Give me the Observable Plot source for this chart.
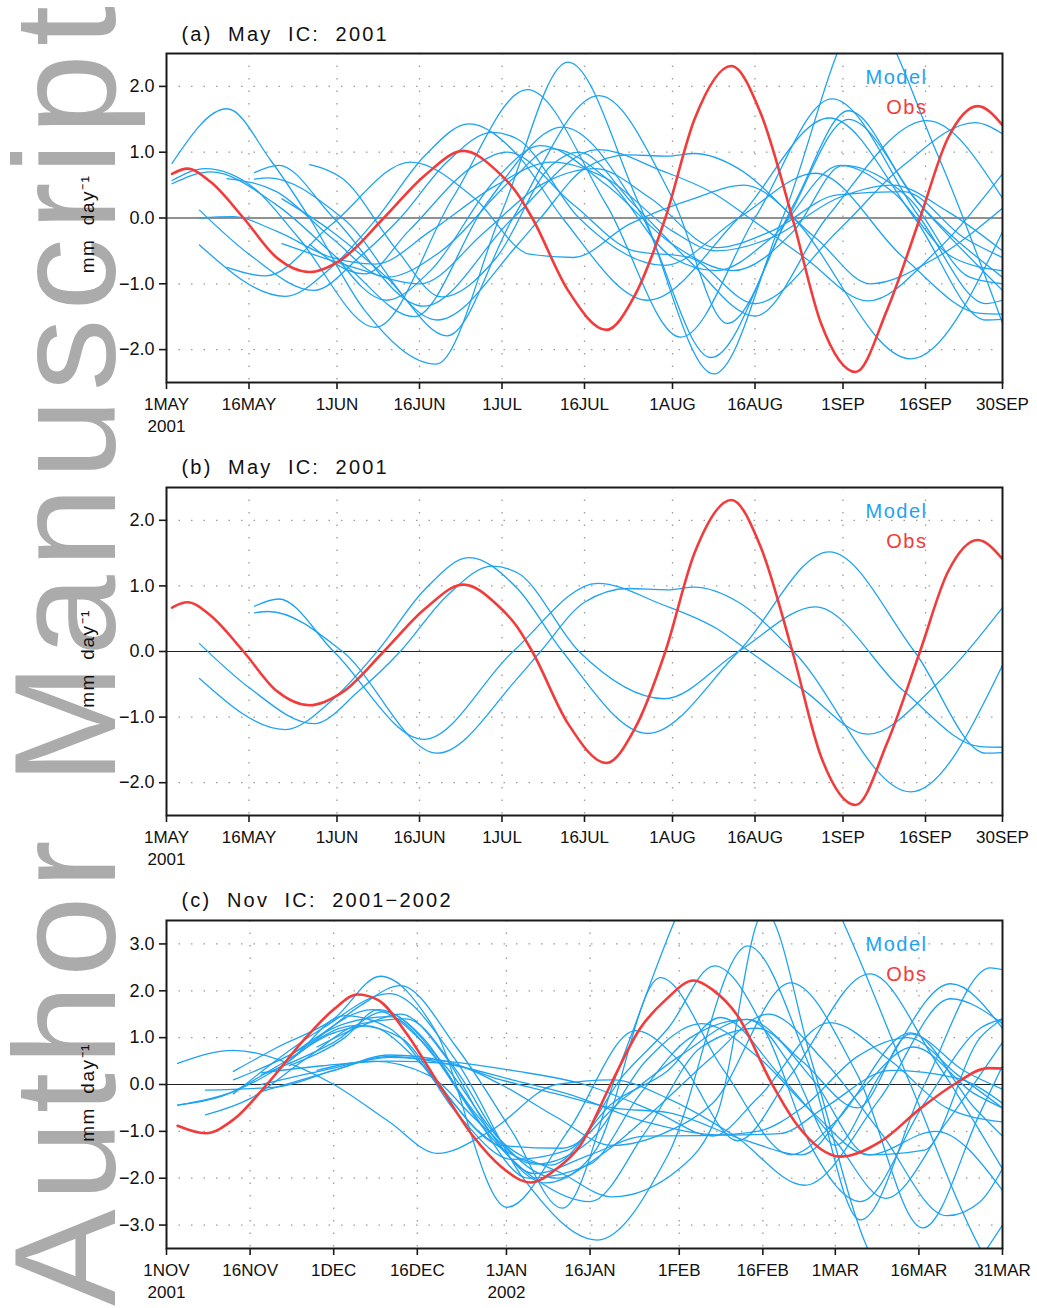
<!DOCTYPE html>
<html>
<head>
<meta charset="utf-8">
<script src="https://cdn.jsdelivr.net/npm/d3@7"></script>
<script src="https://cdn.jsdelivr.net/npm/@observablehq/plot@0.6"></script>
<style>
  html, body { margin: 0; padding: 0; background: #fff; }
  #wrap { position: relative; width: 1037px; height: 1308px; overflow: hidden; font-family: "Liberation Sans", Arial, sans-serif; }
  #wrap > div { position: absolute; left: 0; }
  #wm { position: absolute; left: 0; top: 0; }
</style>
</head>
<body>
<div id="wrap">
  <svg id="wm" width="1037" height="1308"></svg>
  <div id="pa" style="top:0px"></div>
  <div id="pb" style="top:440px"></div>
  <div id="pc" style="top:870px"></div>
</div>
<script>
// ---------- tick dates & labels ----------
const ticksMay = ["2001-05-01","2001-05-16","2001-06-01","2001-06-16","2001-07-01","2001-07-16","2001-08-01","2001-08-16","2001-09-01","2001-09-16","2001-09-30"];
const tickLabelsMay = ["1MAY\n2001","16MAY","1JUN","16JUN","1JUL","16JUL","1AUG","16AUG","1SEP","16SEP","30SEP"];
const ticksNov = ["2001-11-01","2001-11-16","2001-12-01","2001-12-16","2002-01-01","2002-01-16","2002-02-01","2002-02-16","2002-03-01","2002-03-16","2002-03-31"];
const tickLabelsNov = ["1NOV\n2001","16NOV","1DEC","16DEC","1JAN\n2002","16JAN","1FEB","16FEB","1MAR","16MAR","31MAR"];
const yTicksMay = [-2, -1, 0, 1, 2];
const yTicksNov = [-3, -2, -1, 0, 1, 2, 3];
const titles = ["(a)  May  IC:  2001", "(b)  May  IC:  2001", "(c)  Nov  IC:  2001\u22122002"];

// ---------- data: [day since 1 May 2001 / 1 Nov 2001, mm/day] ----------
const obsMay = [[1,0.67],[3.8,0.75],[8,0.55],[14,0],[20,-0.6],[26,-0.82],[32,-0.62],[39.5,0],[47,0.65],[54,1.02],[60,0.72],[63.8,0.37],[66.5,0],[73,-1.1],[80,-1.70],[85,-1.2],[90.7,0],[96,1.5],[102.7,2.31],[108,1.6],[113.8,0],[119,-1.6],[125.3,-2.34],[131,-1.4],[137,0],[142,1.2],[147.5,1.70],[152,1.41]];

const mA1 = [[1,0.83],[11,1.66],[19,0.87],[26,0],[36,-1.4],[49,-2.22],[61,0.1],[73,2.37],[86,0.2],[99.5,-2.37],[112,0],[127,3.1],[140,1.0],[152,-1.6]];
const mA2 = [[1,0.57],[7,0.75],[16,0.45],[24,-0.3],[38,-1.66],[52,0.3],[65.6,1.95],[80,0.2],[93.5,-1.81],[107,0],[121,1.81],[137,0],[149,-1.3],[152,-1.25]];
const mA3 = [[1,0.52],[8,0.7],[20,0.2],[33,-0.75],[45,-1.5],[58,0.2],[72,1.38],[86,0.1],[99,-2.12],[113,0],[124,1.5],[137,0.2],[152,-1.1]];
const mA4 = [[6,-0.41],[21.6,-1.19],[30,-0.75],[38.3,0],[47,0.95],[55,1.43],[63.8,0.96],[72,0],[87.5,-1.25],[104,0],[120.5,1.52],[136,0],[149,-1.55],[152,-1.54]];
const mA5 = [[6,0.12],[15,-0.55],[26.8,-1.1],[35,-0.6],[42.5,0],[51,0.85],[59.2,1.3],[63.8,1.2],[75,0],[90.5,-0.72],[104,0],[118,0.68],[134,-0.6],[148,-1.45],[152,-1.46]];
const mA6 = [[16,0.69],[20.4,0.8],[30.4,0],[46.8,-1.34],[63,0],[78.4,1.04],[90,0.72],[100,0.35],[106,0],[116,-0.6],[127.5,-1.26],[140,-0.5],[152,0.67]];
const mA7 = [[16,0.59],[18.5,0.61],[32,0],[49.2,-1.55],[63.8,-0.41],[68,0],[76,0.75],[84,0.96],[91,0.94],[96,0.98],[104,0.75],[114,0],[135.3,-2.14],[152,-0.21]];
const mA8 = [[6,0.0],[12,0.02],[20,-0.2],[30,-0.6],[38,-0.7],[48,-0.2],[60,0.5],[70,0.85],[80,0.6],[92,-0.2],[100,-0.5],[110,-0.3],[122,0.3],[132,0.5],[142,0.1],[152,-0.5]];
const mA9 = [[11,0.6],[20,0.4],[30,-0.3],[40,-0.9],[50,-0.5],[63,0.6],[70,1.05],[80,0.6],[92,-0.6],[100,-0.8],[110,-0.3],[122.5,0.8],[132,0.4],[143,-0.6],[152,-0.8]];
const mA10 = [[21,0.29],[30,-0.2],[40,-0.9],[51,-1.79],[63,0],[78.6,1.86],[92,0.3],[102,-1.6],[114,0.2],[124,1.63],[136,0.3],[152,-0.9]];
const mA11 = [[21,-0.39],[34,-0.75],[46,-1.0],[58,-0.2],[68,0.5],[78,0.75],[88,0.3],[100,-0.45],[110,-0.2],[122,0.35],[134,0.4],[145,-0.3],[152,-0.6]];
const mA12 = [[26,0.81],[32,0.6],[42,-0.5],[50,-1.2],[60,-0.6],[70,0.8],[75,1.0],[85,0.2],[95,-0.65],[107,-1.49],[120,0],[138.3,1.48],[152,0.3]];
const mA13 = [[26,-0.4],[36,-0.85],[44,-0.2],[56,0.8],[62,1.0],[74,0.2],[85,-0.5],[95,-0.6],[107,-1.3],[122,-0.2],[134,0.8],[147,1.45],[152,1.28]];
const mA14 = [[11,-0.75],[18,-0.88],[30,-0.1],[44.4,0.85],[56,0.3],[66,-0.55],[74,-0.6],[84,-0.1],[96,0.3],[105,0.5],[118,-0.3],[128,-1.0],[140,-0.6],[152,0.15]];
const mA15 = [[31,-0.6],[40,-1.25],[48,-0.8],[60,0.6],[68,1.1],[80,0.5],[92,-0.4],[103,-0.8],[114,-0.2],[123,0.8],[135,0.3],[146,-0.9],[152,-1.0]];
const modelA = [mA1,mA2,mA3,mA4,mA5,mA6,mA7,mA8,mA9,mA10,mA11,mA12,mA13,mA14,mA15];
const modelB = [mA4,mA5,mA6,mA7];

const obsNov = [[2,-0.88],[7,-1.04],[12,-0.75],[18,0],[25,1.0],[30,1.6],[34.2,1.92],[38,1.8],[43,1.1],[48.9,0],[55,-1.1],[60,-1.75],[65.3,-2.09],[70,-1.8],[74.3,-1.29],[79.7,0],[85,1.2],[89.5,1.8],[94.6,2.22],[98,2.02],[102.4,1.48],[108.7,0],[113.2,-0.87],[121,-1.54],[128.1,-1.22],[135.3,-0.51],[141.3,0],[147.5,0.35],[150,0.34]];

const mC1 = [[2,0.45],[12,0.73],[22,0.45],[30,0],[40,-0.8],[48.6,-1.47],[58,-1.0],[70,0.0],[80,0.1],[90,-0.3],[102,-1.1],[114.5,-2.15],[128,-0.3],[140.7,1.83],[150,1.3]];
const mC2 = [[2,-0.44],[10,-0.25],[20,0.4],[30,1.1],[36,1.25],[46,0.4],[56,-1.0],[69,-1.72],[80,-0.4],[90,0.3],[99.4,1.43],[110,0.2],[120,-1.2],[129,-2.43],[140,-0.8],[150,0.9]];
const mC3 = [[2,-0.44],[12,-0.15],[22,0.5],[32,1.47],[40,1.2],[50,-0.2],[60,-1.3],[71,-1.36],[82,-0.3],[92,0.6],[104.2,1.39],[114,0.5],[124,-0.5],[133.5,1.08],[143,0.3],[150,-0.1]];
const mC4 = [[7,-0.12],[20,-0.05],[30,0.3],[40,0.6],[52,0.4],[62,0.1],[72,-0.2],[86,-0.8],[100,-1.08],[110,-1.05],[118,-0.5],[130,0.3],[142,0.13],[150,-0.4]];
const mC5 = [[7,-0.65],[15,-0.3],[25,0.55],[35,1.3],[43,1.4],[52,0.3],[60,-1.2],[70,-2.0],[77,-1.4],[88.6,2.28],[100,0.3],[112,-1.5],[120,-0.8],[133.5,1.1],[145,-0.5],[150,-1.1]];
const mC6 = [[12,0.28],[20,0.8],[30,1.4],[38.4,2.31],[48,1.2],[61.1,-2.62],[72,-1.0],[84.2,1.15],[92,0.5],[102.5,-1.2],[112,0.2],[126.2,2.36],[138,0.5],[150,-1.8]];
const mC7 = [[12,0.1],[26,0.9],[35,1.7],[42,2.11],[52,0.8],[62,-1.0],[71,-2.64],[81,0.3],[91.2,3.5],[106,7.0],[121.3,3.5],[133.5,0],[146,-3.5],[150,-4.3]];
const mC8 = [[12,-0.2],[28,1.2],[40,1.94],[52,0.5],[64,-2.0],[77.3,-3.32],[90,-1.5],[104.3,2.96],[115,0.5],[124.5,-2.89],[136,0],[147.8,2.49],[150,2.45]];
const mC9 = [[17,0.2],[30,0.9],[39,1.55],[50,0.4],[60,-1.2],[71,-1.9],[80,-2.4],[92,-1.8],[99,-0.57],[107.3,3.7],[116,0.4],[125.8,-3.5],[132,-4.6],[142,-4.2],[150,-3.0]];
const mC10 = [[17,-0.15],[30,0.3],[40,0.63],[50,0.5],[60,0.0],[70,-0.7],[80,-1.3],[90,-1.0],[98,-0.4],[112,2.17],[124,0.2],[135.7,-3.06],[146,-0.6],[150,0.4]];
const mC11 = [[17,0.0],[30,0.35],[40,0.58],[50,0.5],[62,0.3],[75,0.0],[88,-0.6],[98,-1.1],[106,-0.3],[119,1.32],[130,0.5],[140,-0.5],[150,-0.8]];
const mC12 = [[17,0.25],[28,0.4],[40,0.5],[50,0.45],[60,0.1],[70,-0.2],[80,-0.5],[90,-0.6],[104,-1.2],[114,-1.5],[124,-0.2],[134,0.8],[145,-0.2],[150,-0.5]];
const mC13 = [[22,0.5],[34,1.26],[42,1.0],[52,-0.6],[62,-1.6],[72,-1.4],[82,0.2],[90,1.2],[98.3,2.53],[108,1.0],[116,-1.4],[124.5,-2.5],[136,-0.4],[146,1.2],[150,1.4]];
const mC14 = [[22,0.4],[32,1.0],[38,1.6],[46,1.0],[55,-0.6],[65,-2.0],[76,-1.7],[85,-0.2],[94,1.0],[104.2,1.39],[112,0.4],[120,-1.3],[128,0.2],[140.7,2.15],[150,1.2]];
const mC15 = [[22,0.6],[32,1.3],[40,1.45],[48,0.6],[56,-0.8],[66,-2.0],[76,-2.5],[86,-1.0],[96,0.8],[106,1.2],[116,0.1],[126,-1.5],[138,-1.0],[150,-2.26]];
const mC16 = [[27,1.0],[37,1.6],[46,0.9],[56,-0.7],[66,-1.9],[76,-1.5],[86,-1.1],[96,-1.09],[106,-1.0],[114,-0.5],[124,0.6],[133,1.0],[142,0.2],[150,-0.5]];
const mC17 = [[27,0.8],[36,1.3],[42,1.5],[50,0.6],[58,-1.0],[68,-2.1],[78,-1.5],[88,-0.5],[98,0.6],[108,1.5],[118,0.5],[128,-1.0],[140,-2.8],[146,-2.5],[150,-1.8]];
const mC18 = [[27,0.3],[37,0.5],[47,0.2],[56,-0.8],[66,-1.7],[76,-1.2],[86,0.5],[96,1.3],[106,0.6],[116,-0.6],[126,-1.5],[136,-1.4],[146,1.0],[150,1.4]];
const modelC = [mC1,mC2,mC3,mC4,mC5,mC6,mC7,mC8,mC9,mC10,mC11,mC12,mC13,mC14,mC15,mC16,mC17,mC18];

// ---------- helpers ----------
const DAY = 864e5;
const BLUE = "#1ea3f2";
const RED = "#f23b3b";
const toRows = (lines, start) => lines.flatMap((pts, k) => pts.map(([d, v]) => ({k, date: new Date(start + d * DAY), v})));
const yFmt = d => (d < 0 ? "\u2212" : "") + Math.abs(d).toFixed(1);

function panel(o) {
  const start = Date.parse(o.ticks[0]);
  const tickDates = o.ticks.map(s => new Date(s));
  const lab = new Map(tickDates.map((d, i) => [+d, o.labels[i]]));
  const svg = Plot.plot({
    width: 1037, height: o.height,
    marginLeft: 166, marginRight: 35, marginTop: o.mt, marginBottom: o.mb,
    style: {background: "transparent", fontFamily: "'Liberation Sans', Arial, sans-serif", fontSize: "17px", color: "#111"},
    x: {type: "utc", domain: [tickDates[0], tickDates[tickDates.length - 1]]},
    y: {domain: o.yDomain},
    marks: [
      Plot.gridX(tickDates.slice(1, -1), {stroke: "#9a9a9a", strokeOpacity: 1, strokeWidth: 1.3, strokeDasharray: "1.5,11"}),
      Plot.gridY(o.yTicks.filter(t => t !== 0), {stroke: "#9a9a9a", strokeOpacity: 1, strokeWidth: 1.3, strokeDasharray: "1.5,11"}),
      Plot.ruleY([0], {stroke: "#222", strokeWidth: 1}),
      Plot.line(toRows(o.model, start), {x: "date", y: "v", z: "k", stroke: BLUE, strokeWidth: 1.3, curve: "monotone-x", clip: true}),
      Plot.line(toRows([o.obs], start), {x: "date", y: "v", z: "k", stroke: RED, strokeWidth: 2.6, curve: "monotone-x", clip: true}),
      Plot.frame({stroke: "#1a1a1a", strokeWidth: 2}),
      Plot.axisX(tickDates, {tickSize: 7, tickPadding: 5, tickFormat: d => lab.get(+d), fontSize: 17, lineHeight: 1.3, label: null, stroke: "#1a1a1a", strokeWidth: 1.6}),
      Plot.axisY(o.yTicks, {tickSize: 7, tickPadding: 5, tickFormat: yFmt, fontSize: 18, label: null, stroke: "#1a1a1a", strokeWidth: 1.6}),
      Plot.text([o.title], {frameAnchor: "top-left", textAnchor: "start", lineAnchor: "bottom", dx: 15, dy: o.titleDy, fontSize: 20, fill: "#111"}),
      Plot.text(["mm  day\u207B\u00B9"], {frameAnchor: "left", rotate: -90, textAnchor: "middle", lineAnchor: "bottom", dx: -73, dy: o.labDy, fontSize: 19, fill: "#111"}),
      Plot.text(["Model"], {frameAnchor: "top-right", textAnchor: "end", lineAnchor: "bottom", dx: -75, dy: 30, fontSize: 20, fill: BLUE}),
      Plot.text(["Obs"], {frameAnchor: "top-right", textAnchor: "end", lineAnchor: "bottom", dx: -75, dy: 60, fontSize: 20, fill: RED})
    ]
  });
  d3.select(svg).selectAll("text").filter(function () {
    return titles.includes(this.textContent);
  }).attr("letter-spacing", 2.2).style("white-space", "pre");
  d3.select(svg).selectAll("text").filter(function () {
    const t = this.textContent;
    return t === "Model" || t === "Obs" || t.startsWith("mm");
  }).attr("letter-spacing", 1.5).style("white-space", "pre");
  return svg;
}

document.getElementById("pa").appendChild(panel({
  height: 440, mt: 53, mb: 58, ticks: ticksMay, labels: tickLabelsMay, yDomain: [-2.5, 2.5], yTicks: yTicksMay,
  model: modelA, obs: obsMay, title: titles[0], titleDy: -13, labDy: 6
}));
document.getElementById("pb").appendChild(panel({
  height: 430, mt: 47, mb: 55, ticks: ticksMay, labels: tickLabelsMay, yDomain: [-2.5, 2.5], yTicks: yTicksMay,
  model: modelB, obs: obsMay, title: titles[1], titleDy: -14, labDy: 7
}));
document.getElementById("pc").appendChild(panel({
  height: 438, mt: 50, mb: 60, ticks: ticksNov, labels: tickLabelsNov, yDomain: [-3.5, 3.5], yTicks: yTicksNov,
  model: modelC, obs: obsNov, title: titles[2], titleDy: -14, labDy: 8
}));

// ---------- watermark ----------
d3.select("#wm").append("text")
  .attr("transform", "rotate(-90)")
  .attr("x", -1306).attr("y", 115)
  .attr("textLength", 1300).attr("lengthAdjust", "spacing")
  .attr("font-family", "'Liberation Sans', Arial, sans-serif")
  .attr("font-size", 145)
  .attr("fill", "#ababab")
  .text("Author Manuscript");
</script>
</body>
</html>
